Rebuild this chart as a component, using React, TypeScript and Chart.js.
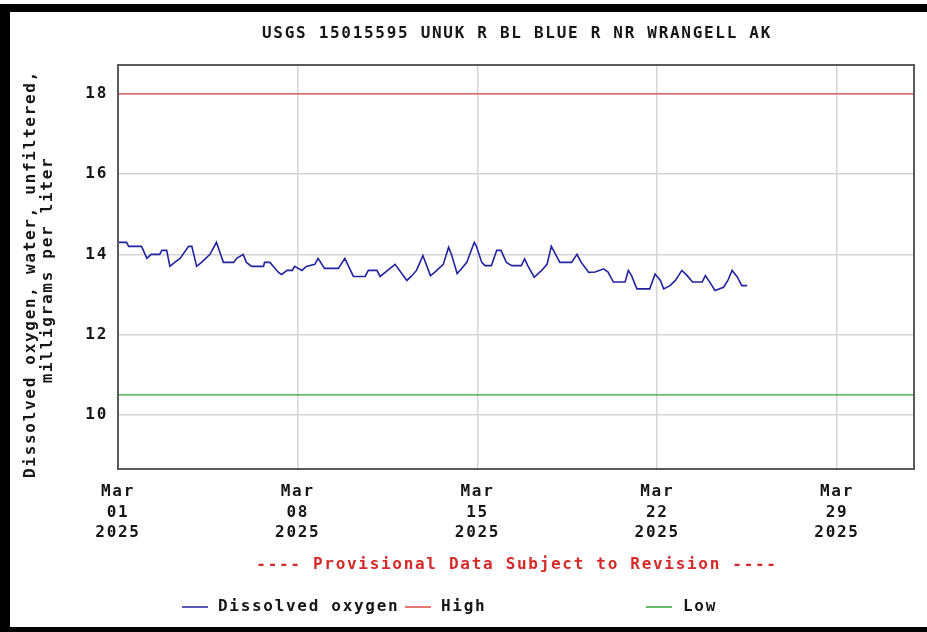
import React, { useEffect, useRef } from "react";
import { Chart, registerables } from "chart.js";

Chart.register(...registerables);

// ---------- data ----------
const TITLE = "USGS 15015595 UNUK R BL BLUE R NR WRANGELL AK";
const Y_TITLE_LINES = ["Dissolved oxygen, water, unfiltered,", "milligrams per liter"];
const PROVISIONAL = "---- Provisional Data Subject to Revision ----";

const X_TICK_DAYS = [0, 7, 14, 21, 28];
const X_TICK_LABELS = [
  ["Mar", "01", "2025"],
  ["Mar", "08", "2025"],
  ["Mar", "15", "2025"],
  ["Mar", "22", "2025"],
  ["Mar", "29", "2025"],
];
const Y_TICKS = [10, 12, 14, 16, 18];

// hours since Mar 01 2025 00:00
const HOURS = [
  0, 8, 10, 22, 27, 31, 39, 41, 45.5, 48.5, 53, 58, 66, 69, 73.5, 78, 86, 92, 98.5, 108,
  111, 117, 120, 125, 136, 137, 142, 150, 153, 158, 163, 165, 172, 176, 184, 187, 193, 206,
  212, 220, 231, 234, 242, 245, 252, 259, 270, 274, 279, 285, 292, 296, 304, 309, 312, 317,
  321, 326, 333, 335, 340, 343, 349, 354, 358, 363, 368, 377, 380, 383, 389, 396, 401, 405,
  408, 413, 424, 429, 433, 440, 446, 454, 458, 463, 474, 477, 480, 485, 497, 502, 507, 510,
  516, 521, 527, 532, 537, 546, 549, 554, 558, 566, 570, 574, 579, 583, 588,
];
const OXYGEN = [
  14.3, 14.3, 14.2, 14.2, 13.9, 14.0, 14.0, 14.1, 14.1, 13.7, 13.8, 13.9, 14.2, 14.2, 13.7, 13.8, 14.0, 14.3, 13.8, 13.8,
  13.9, 14.0, 13.8, 13.7, 13.7, 13.8, 13.8, 13.55, 13.5, 13.6, 13.6, 13.7, 13.6, 13.7, 13.75, 13.9, 13.65, 13.65,
  13.9, 13.45, 13.45, 13.6, 13.6, 13.45, 13.6, 13.75, 13.35, 13.45, 13.6, 13.97, 13.47, 13.55, 13.75, 14.18, 13.97, 13.52,
  13.64, 13.8, 14.3, 14.2, 13.8, 13.72, 13.72, 14.1, 14.1, 13.8, 13.72, 13.72, 13.89, 13.72, 13.43, 13.6, 13.75, 14.2,
  14.05, 13.8, 13.8, 14.0, 13.8, 13.55, 13.56, 13.64, 13.56, 13.31, 13.31, 13.6, 13.47, 13.14, 13.14, 13.51, 13.35, 13.14,
  13.22, 13.35, 13.6, 13.47, 13.31, 13.31, 13.47, 13.27, 13.1, 13.18, 13.35, 13.6, 13.43, 13.22, 13.22,
];
const HIGH_VALUE = 18;
const LOW_VALUE = 10.5;
const X_MIN = 0;
const X_MAX = 31;
const Y_MIN = 8.65;
const Y_MAX = 18.72;

// ---------- styles ----------
const FONT_FAMILY = "'DejaVu Sans Mono', 'Liberation Mono', monospace";
const FONT_SIZE = 16;
const LETTER_SPACING = "1.7px";
const TEXT_COLOR = "#161616";
const BLUE = "#23239e";
const RED = "#de4a4a";
const GREEN = "#35a535";

const decorPlugin = {
  id: "usgsDecor",
  beforeDraw(chart: any) {
    const ctx = chart.ctx as CanvasRenderingContext2D;
    ctx.save();
    ctx.fillStyle = "#ffffff";
    ctx.fillRect(0, 0, chart.width, chart.height);
    ctx.restore();
    (ctx as any).letterSpacing = LETTER_SPACING;
  },
  afterDraw(chart: any) {
    const ctx = chart.ctx as CanvasRenderingContext2D;
    const area = chart.chartArea;
    ctx.save();
    (ctx as any).letterSpacing = LETTER_SPACING;
    // plot frame
    ctx.strokeStyle = "#5a5a5a";
    ctx.lineWidth = 2;
    ctx.strokeRect(area.left, area.top, area.right - area.left, area.bottom - area.top);

    const cx = (area.left + area.right) / 2 + 1;
    ctx.font = `bold ${FONT_SIZE}px ${FONT_FAMILY}`;
    ctx.textAlign = "center";
    ctx.textBaseline = "middle";
    ctx.fillStyle = TEXT_COLOR;
    ctx.fillText(TITLE, cx, 34);

    // y title
    ctx.save();
    ctx.translate(31, 274);
    ctx.rotate(-Math.PI / 2);
    ctx.fillText(Y_TITLE_LINES[0], 0, 0);
    ctx.restore();
    ctx.save();
    ctx.translate(48, 270);
    ctx.rotate(-Math.PI / 2);
    ctx.fillText(Y_TITLE_LINES[1], 0, 0);
    ctx.restore();

    // provisional
    ctx.fillStyle = "#d42a2a";
    ctx.fillText(PROVISIONAL, cx, 565);

    // legend
    const items = [
      { ds: 0, lineX: 182, textX: 218 },
      { ds: 1, lineX: 405, textX: 441 },
      { ds: 2, lineX: 646, textX: 683 },
    ];
    ctx.textAlign = "left";
    items.forEach((it) => {
      const ds = chart.data.datasets[it.ds];
      ctx.strokeStyle = ds.borderColor;
      ctx.lineWidth = 1.5;
      ctx.beginPath();
      ctx.moveTo(it.lineX, 607);
      ctx.lineTo(it.lineX + 26, 607);
      ctx.stroke();
      ctx.fillStyle = TEXT_COLOR;
      ctx.fillText(ds.label, it.textX, 607);
    });

    // black outer frame
    ctx.fillStyle = "#000000";
    ctx.fillRect(0, 4, chart.width, 8);
    ctx.fillRect(0, 4, 10, chart.height - 4);
    ctx.fillRect(0, 627, chart.width, 5);
    ctx.restore();
  },
};

export default function App() {
  const canvasRef = useRef<HTMLCanvasElement | null>(null);

  useEffect(() => {
    const canvas = canvasRef.current;
    if (!canvas) return;
    const oxygenPoints = HOURS.map((h, i) => ({ x: h / 24, y: OXYGEN[i] }));
    const font = { family: FONT_FAMILY, size: FONT_SIZE, weight: "bold" as const, lineHeight: 20.5 / FONT_SIZE };
    const chart = new Chart(canvas, {
      type: "line",
      data: {
        datasets: [
          {
            label: "Dissolved oxygen",
            data: oxygenPoints,
            borderColor: BLUE,
            borderWidth: 1.6,
            pointRadius: 0,
            tension: 0,
          },
          {
            label: "High",
            data: [
              { x: X_MIN, y: HIGH_VALUE },
              { x: X_MAX, y: HIGH_VALUE },
            ],
            borderColor: RED,
            borderWidth: 1.2,
            pointRadius: 0,
          },
          {
            label: "Low",
            data: [
              { x: X_MIN, y: LOW_VALUE },
              { x: X_MAX, y: LOW_VALUE },
            ],
            borderColor: GREEN,
            borderWidth: 1.2,
            pointRadius: 0,
          },
        ],
      },
      options: {
        animation: false,
        responsive: false,
        maintainAspectRatio: false,
        devicePixelRatio: 1,
        layout: { padding: { top: 65, right: 13, left: 0, bottom: 0 } },
        plugins: {
          legend: { display: false },
          title: { display: false },
          tooltip: { enabled: false },
        },
        scales: {
          x: {
            type: "linear",
            min: X_MIN,
            max: X_MAX,
            afterBuildTicks: (s: any) => {
              s.ticks = X_TICK_DAYS.map((v) => ({ value: v }));
            },
            afterFit: (s: any) => {
              s.height = 163;
            },
            border: { display: false },
            grid: { color: "#d6d6d6", lineWidth: 1.5, drawTicks: false },
            ticks: {
              padding: 13,
              maxRotation: 0,
              autoSkip: false,
              color: TEXT_COLOR,
              font,
              callback: (v: any) => X_TICK_LABELS[X_TICK_DAYS.indexOf(Number(v))] || "",
            },
          },
          y: {
            type: "linear",
            min: Y_MIN,
            max: Y_MAX,
            afterBuildTicks: (s: any) => {
              s.ticks = Y_TICKS.map((v) => ({ value: v }));
            },
            afterFit: (s: any) => {
              s.width = 118;
            },
            border: { display: false },
            grid: { color: "#d6d6d6", lineWidth: 1.5, drawTicks: false },
            ticks: {
              padding: 10,
              color: TEXT_COLOR,
              font,
              callback: (v: any) => String(v),
            },
          },
        },
      },
      plugins: [decorPlugin],
    });
    return () => chart.destroy();
  }, []);

  return (
    <div style={{ position: "absolute", left: 0, top: 0, width: 927, height: 632, background: "#fff" }}>
      <canvas ref={canvasRef} width={927} height={632} style={{ display: "block", width: 927, height: 632 }} />
    </div>
  );
}
